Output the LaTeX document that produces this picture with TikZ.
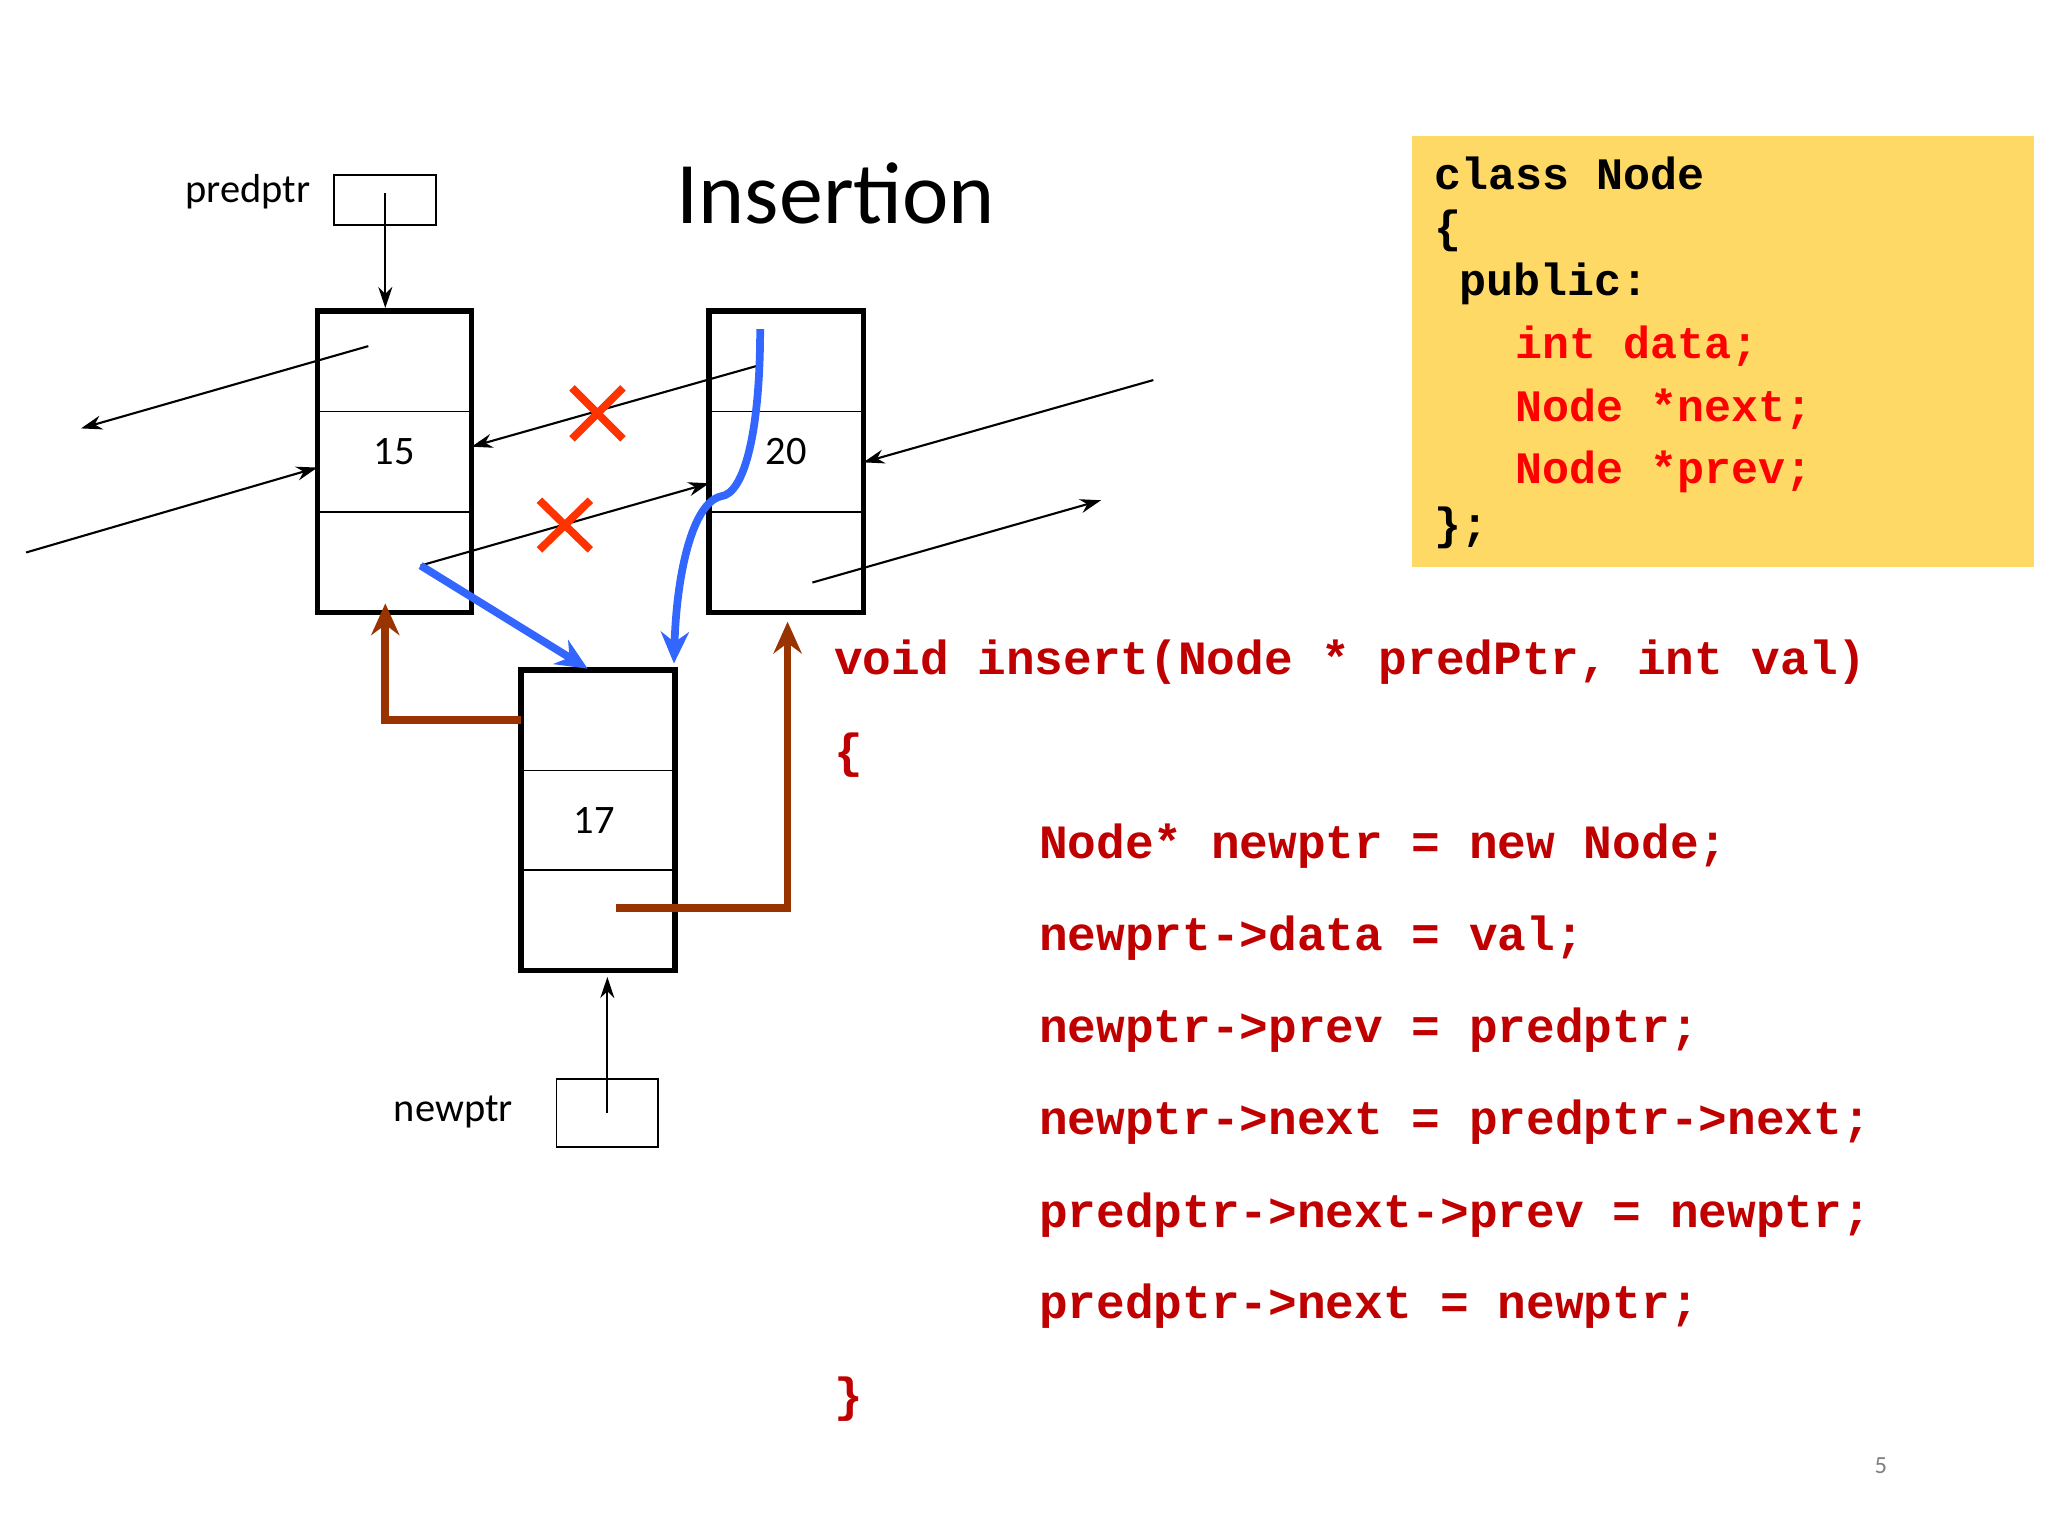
\documentclass[tikz,border=0pt]{standalone}
\usepackage{fontspec}
\setmainfont{Carlito}
\newfontfamily\codefont{Liberation Mono}
\usetikzlibrary{arrows.meta}
\definecolor{codered}{HTML}{C00000}
\definecolor{brightred}{HTML}{FF0000}
\definecolor{yel}{HTML}{FFD966}
\definecolor{blu}{HTML}{3366FF}
\definecolor{brn}{HTML}{993300}
\definecolor{xred}{HTML}{FF3300}
\begin{document}
\begin{tikzpicture}[x=0.01306cm,y=-0.01306cm,
  nodebox/.style={draw,line width=1.6pt},
  ptrbox/.style={draw,line width=0.5pt},
  thin/.style={line width=0.6pt,-{Stealth[length=6pt,width=4pt]}},
  blue/.style={blu,line width=2.2pt,-{Stealth[length=9pt,width=8pt]}},
  brown/.style={brn,line width=2.2pt,-{Stealth[length=9pt,width=8pt]}},
  lbl/.style={font=\fontsize{11.5}{13}\selectfont},
  code/.style={anchor=west,inner sep=0,font=\codefont\bfseries\fontsize{13.6}{15}\selectfont,text=codered},
  cls/.style={anchor=west,inner sep=0,font=\codefont\bfseries\fontsize{12.8}{14}\selectfont},
  xmark/.style={xred,line width=2.2pt}]
\useasboundingbox (0,0) rectangle (1568,1176);
\node[font=\fontsize{25}{30}\selectfont] (title) at (640,148) {Insertion};
% nodes
\node[nodebox,minimum width=118*0.01306cm,minimum height=231*0.01306cm,inner sep=0] (A) at (302,353.5) {};
\node[nodebox,minimum width=118*0.01306cm,minimum height=231*0.01306cm,inner sep=0] (B) at (602,353.5) {};
\node[nodebox,minimum width=118*0.01306cm,minimum height=230*0.01306cm,inner sep=0] (C) at (458,628) {};
\draw[line width=0.5pt] (243,315)--(361,315) (243,392)--(361,392);
\draw[line width=0.5pt] (543,315)--(661,315) (543,392)--(661,392);
\draw[line width=0.5pt] (399,590)--(517,590) (399,666)--(517,666);
\node[lbl] (v15) at (302,346) {15};
\node[lbl] (v20) at (602,346) {20};
\node[lbl] (v17) at (455,628) {17};
% pointers
\node[ptrbox,minimum width=78*0.01306cm,minimum height=38*0.01306cm,inner sep=0] (pp) at (295,153) {};
\node[lbl,anchor=east] (ppl) at (247,147) {predptr};
\node[ptrbox,minimum width=78*0.01306cm,minimum height=52*0.01306cm,inner sep=0] (np) at (465,852) {};
\node[lbl,anchor=east] (npl) at (402,851) {newptr};
\coordinate (pps) at (295,148);
\coordinate (nps) at (465,852);
\draw[thin] (pps) -- (A.north -| pps);
\draw[thin] (nps) -- (465,748);
% old links
\coordinate (a1) at (282,265); \coordinate (a2) at (62,328);
\coordinate (b1) at (20,423); \coordinate (b2) at (243,358);
\coordinate (c1) at (580,280); \coordinate (c2) at (361,342);
\coordinate (d1) at (322,433); \coordinate (d2) at (543,370);
\coordinate (e1) at (883,291); \coordinate (e2) at (661,354);
\coordinate (f1) at (622,446); \coordinate (f2) at (843,383);
\draw[thin] (a1)--(a2); \draw[thin] (b1)--(b2); \draw[thin] (c1)--(c2);
\draw[thin] (d1)--(d2); \draw[thin] (e1)--(e2); \draw[thin] (f1)--(f2);
% crosses
\draw[xmark] (438,297)--(477,336) (438,336)--(477,297);
\draw[xmark] (413,383)--(452,421) (413,421)--(452,383);
% blue
\draw[blue] (d1) -- (450,512);
\draw[blue] (582,252) .. controls (582,330) and (570,378) .. (552,380) .. controls (530,385) and (518,440) .. (516,508);
% brown
\draw[brown] (399,551) -- (295,551) -- (295,462);
\draw[brown] (472,695) -- (603,695) -- (603,476);
% class box
\node[fill=yel,minimum width=476*0.01306cm,minimum height=330*0.01306cm,inner sep=0] (cb) at (1319,269) {};
\node[cls] at (1098,133) {class Node};
\node[cls] at (1098,177) {\{};
\node[cls] at (1117,217) {public:};
\node[cls,text=brightred] at (1160,265) {int data;};
\node[cls,text=brightred] at (1160,313) {Node *next;};
\node[cls,text=brightred] at (1160,361) {Node *prev;};
\node[cls] at (1098,404) {\};};
% code
\node[code] at (638,507) {void insert(Node * predPtr, int val)};
\node[code] at (638,578) {\{};
\node[code] at (795,648) {Node* newptr = new Node;};
\node[code] at (795,718) {newprt->data = val;};
\node[code] at (795,789) {newptr->prev = predptr;};
\node[code] at (795,859) {newptr->next = predptr->next;};
\node[code] at (795,930) {predptr->next->prev = newptr;};
\node[code] at (795,1000) {predptr->next = newptr;};
\node[code] at (638,1071) {\}};
\node[text=gray,font=\fontsize{7}{8}\selectfont] (pg) at (1440,1122) {5};
\end{tikzpicture}
\end{document}
